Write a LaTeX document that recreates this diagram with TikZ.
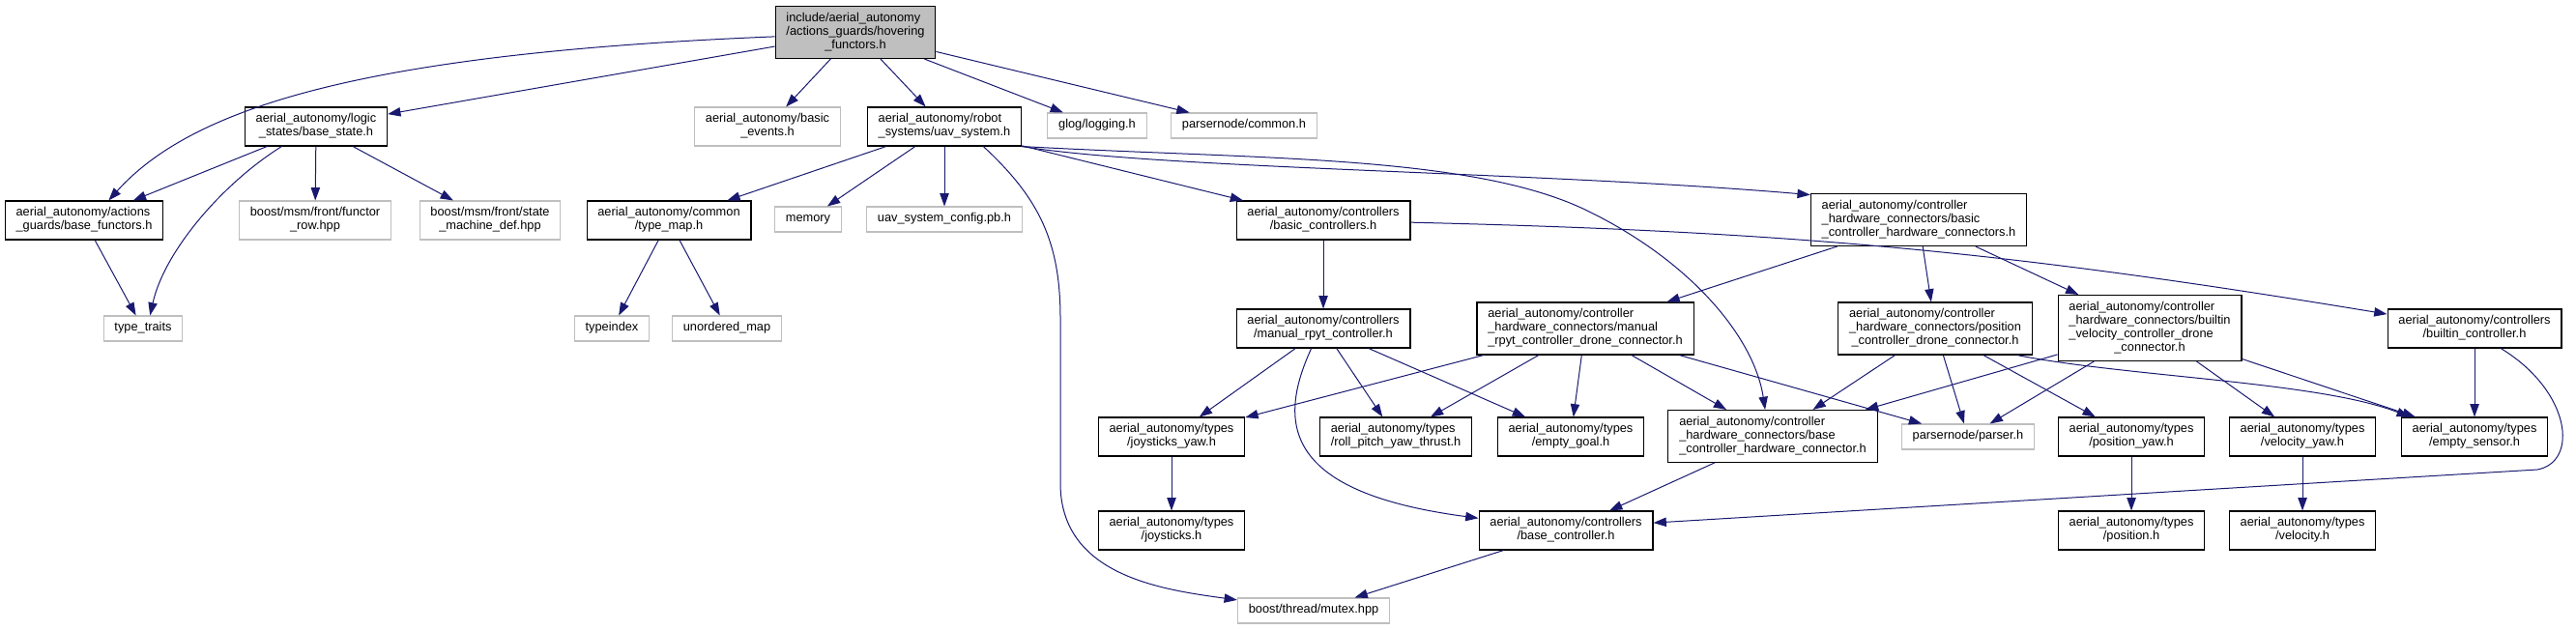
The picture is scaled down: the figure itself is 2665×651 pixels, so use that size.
\documentclass[tikz,border=0pt]{standalone}
\usepackage{fontspec}
\setmainfont{Liberation Sans}
\usetikzlibrary{arrows.meta,positioning}
\definecolor{dxblue}{HTML}{191970}
\definecolor{sysgray}{HTML}{BFBFBF}
\newcommand{\lft}[1]{\multicolumn{1}{@{}l@{}}{#1}}
\newcommand{\flbl}[1]{\begin{tabular}{@{}c@{}}#1\end{tabular}}

\begin{document}
\begin{tikzpicture}[x=0.75pt, y=-0.75pt,
  font=\fontsize{9.6}{10.5}\selectfont, >={Triangle[length=10pt,width=7pt]},
  file/.style={draw=black, line width=0.8pt, fill=white, inner xsep=8.5pt, inner ysep=4.5pt},
  root/.style={file, fill=sysgray},
  sys/.style={file, draw=sysgray},
  dep/.style={->, dxblue, line width=0.75pt}]

\useasboundingbox (0,0) rectangle (2665,651);

% the file itself
\node (hover) [root] at (885,33.5)
  {\flbl{\lft{include/aerial\_autonomy}\\\lft{/actions\_guards/hovering}\\\_functors.h}};

% direct includes
\node (bstate)  [file] at (327,131)  {\flbl{\lft{aerial\_autonomy/logic}\\\_states/base\_state.h}};
\node (bevents) [sys]  at (794,131)  {\flbl{\lft{aerial\_autonomy/basic}\\\_events.h}};
\node (uav)     [file] at (977,131)  {\flbl{\lft{aerial\_autonomy/robot}\\\_systems/uav\_system.h}};
\node (glog)    [sys]  at (1135,130) {\flbl{glog/logging.h}};
\node (pcommon) [sys]  at (1287,130) {\flbl{parsernode/common.h}};

\node (bfunc)  [file] at (87,228)  {\flbl{\lft{aerial\_autonomy/actions}\\\_guards/base\_functors.h}};
\node (frow)   [sys]  at (326,228) {\flbl{\lft{boost/msm/front/functor}\\\_row.hpp}};
\node (smdef)  [sys]  at (507,228) {\flbl{\lft{boost/msm/front/state}\\\_machine\_def.hpp}};
\node (tmap)   [file] at (692,228) {\flbl{\lft{aerial\_autonomy/common}\\/type\_map.h}};
\node (memory) [sys]  at (836,227) {\flbl{memory}};
\node (uavcfg) [sys]  at (977,227) {\flbl{uav\_system\_config.pb.h}};
\node (bctrl)  [file] at (1369,228) {\flbl{\lft{aerial\_autonomy/controllers}\\/basic\_controllers.h}};
\node (bchw)   [file] at (1985,227.5)
  {\flbl{\lft{aerial\_autonomy/controller}\\\lft{\_hardware\_connectors/basic}\\\_controller\_hardware\_connectors.h}};

\node (ttraits) [sys]  at (148,340) {\flbl{type\_traits}};
\node (tindex)  [sys]  at (633,340) {\flbl{typeindex}};
\node (umap)    [sys]  at (752,340) {\flbl{unordered\_map}};
\node (mrc)     [file] at (1369,340) {\flbl{\lft{aerial\_autonomy/controllers}\\/manual\_rpyt\_controller.h}};
\node (mrdc)    [file] at (1640,340)
  {\flbl{\lft{aerial\_autonomy/controller}\\\lft{\_hardware\_connectors/manual}\\\_rpyt\_controller\_drone\_connector.h}};
\node (pcdc)    [file] at (2002,340)
  {\flbl{\lft{aerial\_autonomy/controller}\\\lft{\_hardware\_connectors/position}\\\_controller\_drone\_connector.h}};
\node (bvdc)    [file] at (2224,339.5)
  {\flbl{\lft{aerial\_autonomy/controller}\\\lft{\_hardware\_connectors/builtin}\\\lft{\_velocity\_controller\_drone}\\\_connector.h}};
\node (builtin) [file] at (2560,340) {\flbl{\lft{aerial\_autonomy/controllers}\\/builtin\_controller.h}};

\node (jyaw)    [file] at (1212,452) {\flbl{\lft{aerial\_autonomy/types}\\/joysticks\_yaw.h}};
\node (rpyt)    [file] at (1444,452) {\flbl{\lft{aerial\_autonomy/types}\\/roll\_pitch\_yaw\_thrust.h}};
\node (egoal)   [file] at (1625,452) {\flbl{\lft{aerial\_autonomy/types}\\/empty\_goal.h}};
\node (bchc)    [file] at (1834,451.5)
  {\flbl{\lft{aerial\_autonomy/controller}\\\lft{\_hardware\_connectors/base}\\\_controller\_hardware\_connector.h}};
\node (parser)  [sys]  at (2036,452) {\flbl{parsernode/parser.h}};
\node (pyaw)    [file] at (2205,452) {\flbl{\lft{aerial\_autonomy/types}\\/position\_yaw.h}};
\node (vyaw)    [file] at (2382,452) {\flbl{\lft{aerial\_autonomy/types}\\/velocity\_yaw.h}};
\node (esensor) [file] at (2560,452) {\flbl{\lft{aerial\_autonomy/types}\\/empty\_sensor.h}};

\node (joy)   [file] at (1212,549) {\flbl{\lft{aerial\_autonomy/types}\\/joysticks.h}};
\node (bbase) [file] at (1620,549) {\flbl{\lft{aerial\_autonomy/controllers}\\/base\_controller.h}};
\node (pos)   [file] at (2205,549) {\flbl{\lft{aerial\_autonomy/types}\\/position.h}};
\node (vel)   [file] at (2382,549) {\flbl{\lft{aerial\_autonomy/types}\\/velocity.h}};

\node (mutex) [sys] at (1359,632) {\flbl{boost/thread/mutex.hpp}};

% straight include edges
\foreach \a/\b in {hover/bstate, hover/bevents, hover/uav, hover/glog, hover/pcommon,
    bstate/bfunc, bstate/frow, bstate/smdef, bfunc/ttraits,
    uav/tmap, uav/memory, uav/uavcfg, uav/bctrl, tmap/tindex, tmap/umap,
    bctrl/mrc, bchw/mrdc, bchw/pcdc, bchw/bvdc,
    mrc/jyaw, mrc/rpyt, mrc/egoal,
    mrdc/jyaw, mrdc/rpyt, mrdc/egoal, mrdc/bchc, mrdc/parser,
    pcdc/bchc, pcdc/parser, pcdc/pyaw,
    bvdc/bchc, bvdc/parser, bvdc/vyaw, bvdc/esensor, builtin/esensor,
    jyaw/joy, pyaw/pos, vyaw/vel, bchc/bbase, bbase/mutex}
  \draw[dep] (\a) -- (\b);

% curved edges
\draw[dep] (hover.183) .. controls (380,55) and (200,110) .. (bfunc.39);
\draw[dep] (bstate.210) .. controls (230,190) and (170,260) .. (ttraits.62);
\draw[dep] (uav.333) .. controls (1075,205) and (1097,250) .. (1097,330) -- (1097,500)
  .. controls (1097,595) and (1200,610) .. (mutex.172);
\draw[dep] (uav.south east) .. controls (1200,175) and (1600,178) .. (bchw.167);
\draw[dep] (uav.south east) .. controls (1300,165) and (1520,160) .. (1640,217)
  .. controls (1750,270) and (1815,350) .. (bchc.106);
\draw[dep] (bctrl) to[bend left=4] (builtin);
\draw[dep] (mrc.239) .. controls (1320,440) and (1330,510) .. (bbase.172);
\draw[dep] (builtin.323) .. controls (2660,405) and (2668,478) .. (2625,486) -- (bbase.5);
\draw[dep] (pcdc.342) .. controls (2200,390) and (2400,395) .. (esensor.163);
\end{tikzpicture}
\end{document}
